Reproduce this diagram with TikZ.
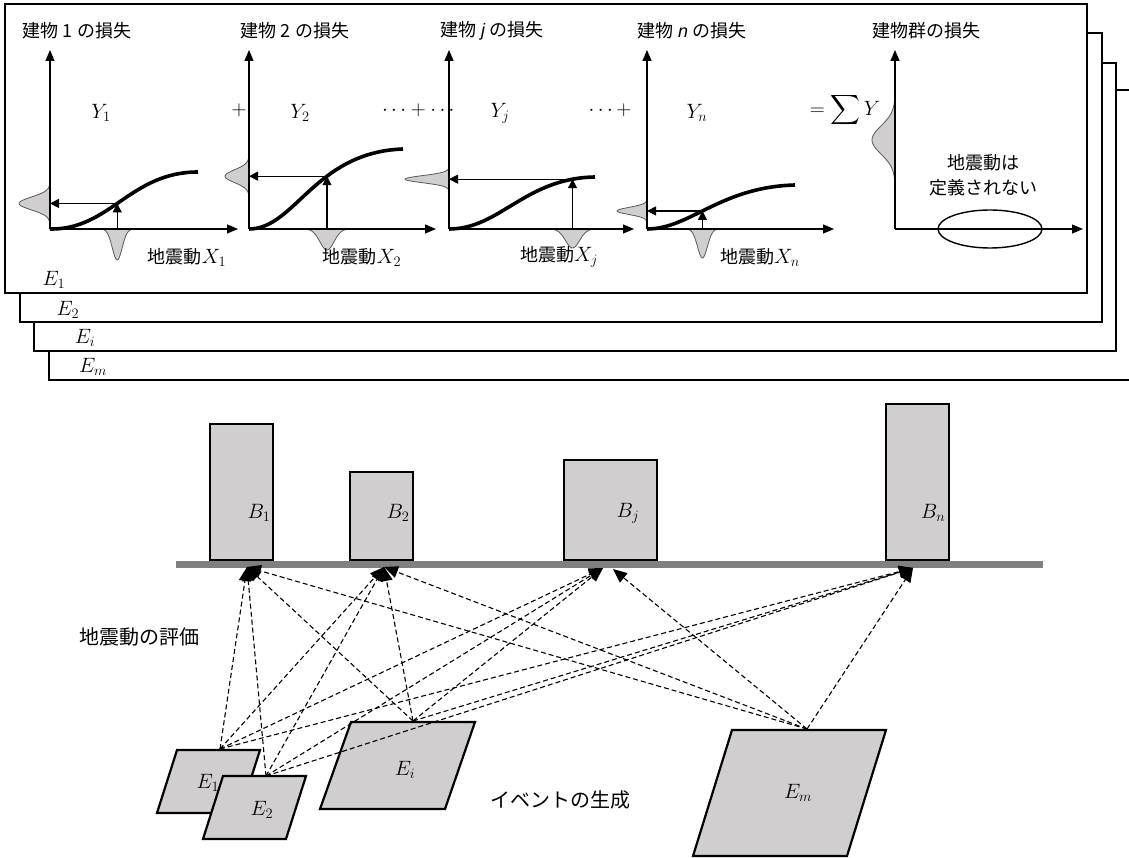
\documentclass[tikz,border=0pt]{standalone}
\usepackage{amsmath}
\usepackage[no-math]{fontspec}
\newfontfamily\jp{Noto Sans CJK JP}
\newfontfamily\latinsans{Liberation Sans}
\usetikzlibrary{arrows.meta,shapes.geometric}
\definecolor{fillgray}{RGB}{208,206,206}
\definecolor{groundgray}{RGB}{128,128,128}
\newcommand\mbig{\fontsize{20}{24}\selectfont}

\begin{document}
\begin{tikzpicture}[x=1pt,y=-1pt,
  sheet/.style={draw=black, line width=2.2pt, fill=white},
  axisarrow/.style={line width=1.2pt, -{Triangle[length=11pt,width=9pt]}},
  probe/.style={line width=1.2pt, -{Triangle[length=9pt,width=9pt]}},
  fragility/.style={line width=3.6pt},
  density/.style={fill=fillgray, draw=black!65, line width=0.8pt},
  jptext/.style={font=\jp\fontsize{18}{21}\selectfont, inner sep=0pt},
  jpbig/.style={font=\jp\fontsize{20}{24}\selectfont, inner sep=0pt},
  mathtext/.style={font=\mbig, inner sep=0pt},
  bldg/.style={draw=black, line width=2.2pt, fill=fillgray, anchor=south west, inner sep=0pt},
  event/.style={draw=black, line width=2.2pt, fill=fillgray},
  ground/.style={draw=groundgray, line width=7pt},
  link/.style={line width=1.1pt, dash pattern=on 5pt off 3pt, -{Triangle[length=14pt,width=12pt]}},
]
\useasboundingbox (0,0) rectangle (1129,858);
\clip (0,0) rectangle (1129,858);

% ---------- stacked event sheets (back to front) ----------
\draw[sheet] (49,90) rectangle (1150,380);
\draw[sheet] (34,63) rectangle (1116,351);
\draw[sheet] (20,33) rectangle (1102,322);
\draw[sheet] (5,4) rectangle (1087,293);
\node[mathtext] (sE1) at (54,280) {$E_1$};
\node[mathtext] (sE2) at (68,310) {$E_2$};
\node[mathtext] (sEi) at (85,338) {$E_i$};
\node[mathtext] (sEm) at (93,367) {$E_m$};

% ---------- building 1 ----------
\coordinate (o1) at (50,229);
\draw[fragility] (o1) .. controls (110,230) and (130,172) .. coordinate[pos=0.47] (c1) (198,172);
\coordinate (h1) at (c1 -| o1);
\coordinate (v1) at (c1 |- o1);
\draw[density, shift={(h1)}] plot[domain=-3:3, samples=61] ({-31*exp(-1*(\x)*(\x))}, {9*\x}) -- cycle;
\draw[density, shift={(v1)}] plot[domain=-3:3, samples=61] ({7*\x}, {31*exp(-1*(\x)*(\x))}) -- cycle;
\draw[axisarrow] (o1) -- (50,50);
\draw[axisarrow] (o1) -- (238,229);
\draw[probe] (v1) -- (c1);
\draw[probe] (c1) -- (h1);
\node[jptext] (t1) at (77,31) {建物 1 の損失};
\node[mathtext] (y1) at (101,113) {$Y_1$};
\node[jptext] (x1) at (187,257) {地震動{\mbig$X_1$}};

% ---------- building 2 ----------
\coordinate (o2) at (249,229);
\draw[fragility] (o2) .. controls (295,229) and (315,152) .. coordinate[pos=0.62] (c2) (403,149);
\coordinate (h2) at (c2 -| o2);
\coordinate (v2) at (c2 |- o2);
\draw[density, shift={(h2)}] plot[domain=-3:3, samples=61] ({-24*exp(-1*(\x)*(\x))}, {9*\x}) -- cycle;
\draw[density, shift={(v2)}] plot[domain=-3:3, samples=61] ({10*\x}, {21*exp(-1*(\x)*(\x))}) -- cycle;
\draw[axisarrow] (o2) -- (249,50);
\draw[axisarrow] (o2) -- (436,229);
\draw[probe] (v2) -- (c2);
\draw[probe] (c2) -- (h2);
\node[jptext] (t2) at (295,31) {建物 2 の損失};
\node[mathtext] (p2) at (239,110) {$+$};
\node[mathtext] (y2) at (300,113) {$Y_2$};
\node[jptext] (x2) at (362,257) {地震動{\mbig$X_2$}};

% ---------- building j ----------
\coordinate (oj) at (449,229);
\draw[fragility] (oj) .. controls (500,229) and (525,178) .. coordinate[pos=0.885] (cj) (595,177);
\coordinate (hj) at (cj -| oj);
\coordinate (vj) at (cj |- oj);
\draw[density, shift={(hj)}] plot[domain=-3:3, samples=61] ({-44*exp(-1*(\x)*(\x))}, {5*\x}) -- cycle;
\draw[density, shift={(vj)}] plot[domain=-3:3, samples=61] ({10*\x}, {19*exp(-1*(\x)*(\x))}) -- cycle;
\draw[axisarrow] (oj) -- (449,50);
\draw[axisarrow] (oj) -- (634,229);
\draw[probe] (vj) -- (cj);
\draw[probe] (cj) -- (hj);
\node[jptext] (tj) at (492,31) {建物 {\latinsans\itshape j} の損失};
\node[mathtext] (pj) at (420,110) {$\cdots+\cdots$};
\node[mathtext] (yj) at (500,113) {$Y_j$};
\node[jptext] (xj) at (559,257) {地震動{\mbig$X_j$}};

% ---------- building n ----------
\coordinate (on) at (647,229);
\draw[fragility] (on) .. controls (690,229) and (720,187) .. coordinate[pos=0.45] (cn) (795,185);
\coordinate (hn) at (cn -| on);
\coordinate (vn) at (cn |- on);
\draw[density, shift={(hn)}] plot[domain=-3:3, samples=61] ({-30*exp(-1*(\x)*(\x))}, {5*\x}) -- cycle;
\draw[density, shift={(vn)}] plot[domain=-3:3, samples=61] ({7*\x}, {29*exp(-1*(\x)*(\x))}) -- cycle;
\draw[axisarrow] (on) -- (647,50);
\draw[axisarrow] (on) -- (834,229);
\draw[probe] (vn) -- (cn);
\draw[probe] (cn) -- (hn);
\node[jptext] (tn) at (692,31) {建物 {\latinsans\itshape n} の損失};
\node[mathtext] (pn) at (610,110) {$\cdots+$};
\node[mathtext] (yn) at (697,113) {$Y_n$};
\node[jptext] (xn) at (760,257) {地震動{\mbig$X_n$}};

% ---------- building group ----------
\coordinate (og) at (895,229);
\coordinate (hg) at (895,140);
\draw[density, shift={(hg)}] plot[domain=-3:3, samples=61] ({-23*exp(-1*(\x)*(\x))}, {20*\x}) -- cycle;
\draw[axisarrow] (og) -- (895,50);
\draw[axisarrow] (og) -- (1083,229);
\node[draw, ellipse, line width=1.4pt, minimum width=104pt, minimum height=38pt] (gm) at (990,229) {};
\node[jptext] (tg) at (926,31) {建物群の損失};
\node[mathtext] (sg) at (845,110) {$=\displaystyle\sum Y$};
\node[jptext, align=center, font=\jp\fontsize{18}{25}\selectfont] (ng) at (983,175) {地震動は\\定義されない};

% ---------- buildings on the ground ----------
\node[bldg, minimum width=63pt, minimum height=136pt] (b1) at (209,561) {};
\node[bldg, minimum width=63pt, minimum height=88pt] (b2) at (349,561) {};
\node[bldg, minimum width=93pt, minimum height=100pt] (bj) at (563,561) {};
\node[bldg, minimum width=63pt, minimum height=156pt] (bn) at (885,561) {};
\node[mathtext] (b1l) at (259,513) {$B_1$};
\node[mathtext] (b2l) at (398,513) {$B_2$};
\node[mathtext] (bjl) at (628,513) {$B_j$};
\node[mathtext] (bnl) at (933,513) {$B_n$};
\draw[ground] (176,564) -- (1043,564);

\node[jpbig] (gmeval) at (139,637) {地震動の評価};
\node[jpbig] (evgen) at (560,800) {イベントの生成};

% ---------- event sources ----------
\draw[event] (177,750) -- (260,750) -- (240,813) -- (157,813) -- cycle;
\node[mathtext] (e1l) at (208,783) {$E_1$};
\draw[event] (223,776) -- (306,776) -- (286,839) -- (203,839) -- cycle;
\node[mathtext] (e2l) at (262,810) {$E_2$};
\draw[event] (351,722) -- (475,722) -- (445,809) -- (320,809) -- cycle;
\node[mathtext] (eil) at (405,770) {$E_i$};
\draw[event] (732,730) -- (886,730) -- (847,856) -- (693,856) -- cycle;
\node[mathtext] (eml) at (798,793) {$E_m$};

% ---------- ground-motion links ----------
\coordinate (s1) at (220,749);
\coordinate (s2) at (266,776);
\coordinate (si) at (413,721);
\coordinate (sm) at (807,729);
\coordinate (r1) at (247,567);
\coordinate (r2) at (384,567);
\coordinate (rj) at (603,568);
\coordinate (rj2) at (613,569);
\coordinate (rn) at (913,568);
\foreach \s in {s1,s2,si}
  \foreach \r in {r1,r2,rj,rn}
    \draw[link] (\s) -- (\r);
\foreach \r in {r1,r2,rj2,rn}
  \draw[link] (sm) -- (\r);
\end{tikzpicture}
\end{document}
